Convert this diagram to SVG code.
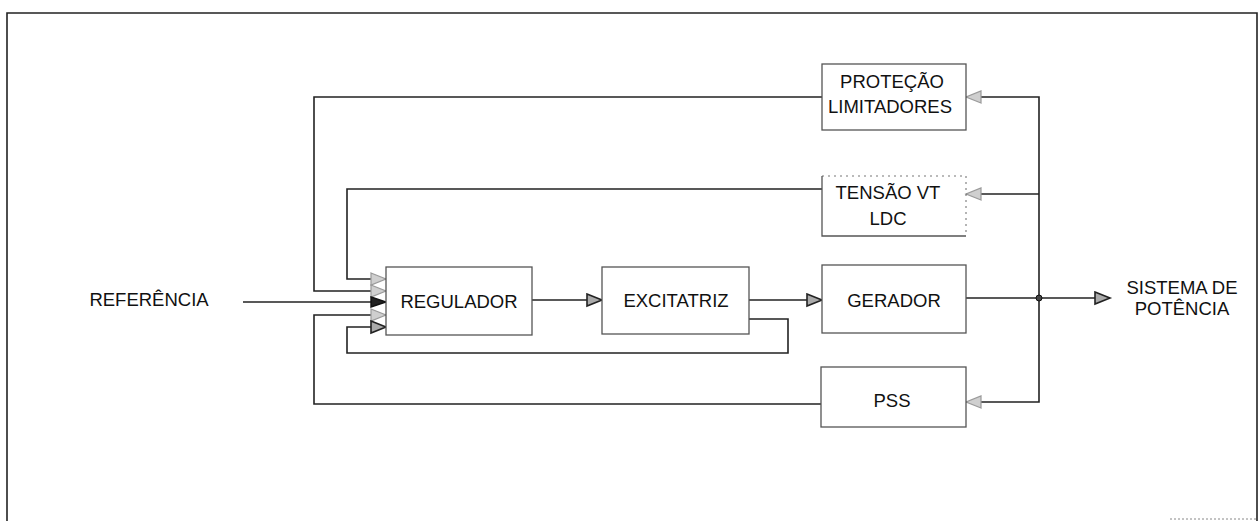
<svg xmlns="http://www.w3.org/2000/svg" width="1258" height="521" viewBox="0 0 1258 521">
<defs>
<style>
.box{fill:#fff;stroke:#555;stroke-width:1.3}
.ln{fill:none;stroke:#222;stroke-width:1.6}
.faint{fill:none;stroke:#777;stroke-width:1.1;stroke-dasharray:2,4}
.t{font-family:"Liberation Sans",Arial,sans-serif;font-size:18.5px;fill:#111;text-anchor:middle}
</style>
<marker id="ga" markerUnits="userSpaceOnUse" markerWidth="20" markerHeight="16" refX="16" refY="7" orient="auto">
<path d="M1,1 L16,7 L1,13 Z" fill="#cfcfcf" stroke="#9a9a9a" stroke-width="1.2"/>
</marker>
<marker id="da" markerUnits="userSpaceOnUse" markerWidth="20" markerHeight="16" refX="16" refY="7" orient="auto">
<path d="M1,1 L16,7 L1,13 Z" fill="#aaa" stroke="#222" stroke-width="1.6"/>
</marker>
<marker id="ba" markerUnits="userSpaceOnUse" markerWidth="20" markerHeight="16" refX="16" refY="7" orient="auto">
<path d="M1,2 L16,7 L1,12 Z" fill="#222" stroke="#111" stroke-width="1.4"/>
</marker>
</defs>
<g id="frame">
<path d="M7,521 V13 H1257 V521" fill="none" stroke="#222" stroke-width="1.6"/>
<path d="M1170,519 H1257" fill="none" stroke="#888" stroke-width="1" stroke-dasharray="2,2"/>
</g>
<g id="connectors">
<path class="ln" d="M822,97 H314 V291 H386" marker-end="url(#ga)"/>
<path class="ln" d="M822,189 H347 V279 H386" marker-end="url(#ga)"/>
<path class="ln" d="M243,302 H386" marker-end="url(#ba)"/>
<path class="ln" d="M821,404 H314 V315 H386" marker-end="url(#ga)"/>
<path class="ln" d="M749,319 H788 V353 H347 V327 H386" marker-end="url(#da)"/>
<path class="ln" d="M532,300 H602" marker-end="url(#da)"/>
<path class="ln" d="M749,300 H822" marker-end="url(#da)"/>
<path class="ln" d="M966,298 H1110" marker-end="url(#da)"/>
<path class="ln" d="M1039,298 V97 H966" marker-end="url(#ga)"/>
<path class="ln" d="M1039,194 H966" marker-end="url(#ga)"/>
<path class="ln" d="M1039,298 V402 H966" marker-end="url(#ga)"/>
<circle cx="1039" cy="298" r="3" fill="#444" stroke="#111" stroke-width="1"/>
</g>
<g id="referencia"><text class="t" x="149" y="306">REFERÊNCIA</text></g>
<g id="regulador"><rect class="box" x="386" y="267" width="146" height="68"/><text class="t" x="459" y="308">REGULADOR</text></g>
<g id="excitatriz"><rect class="box" x="602" y="267" width="147" height="67"/><text class="t" x="676" y="307">EXCITATRIZ</text></g>
<g id="gerador"><rect class="box" x="822" y="265" width="144" height="68"/><text class="t" x="894" y="307">GERADOR</text></g>
<g id="protecao"><rect class="box" x="822" y="64" width="144" height="66"/><text class="t" x="892" y="88">PROTEÇÃO</text><text class="t" x="890" y="113">LIMITADORES</text></g>
<g id="tensao"><path class="faint" d="M822,176 H966 V236"/><path d="M822,176 V236 H966" fill="none" stroke="#555" stroke-width="1.3"/><text class="t" x="888" y="199">TENSÃO VT</text><text class="t" x="888" y="225">LDC</text></g>
<g id="pss"><rect class="box" x="821" y="367" width="145" height="60"/><text class="t" x="892" y="407">PSS</text></g>
<g id="sistema"><text class="t" x="1182" y="294">SISTEMA DE</text><text class="t" x="1182" y="315">POTÊNCIA</text></g>
</svg>
